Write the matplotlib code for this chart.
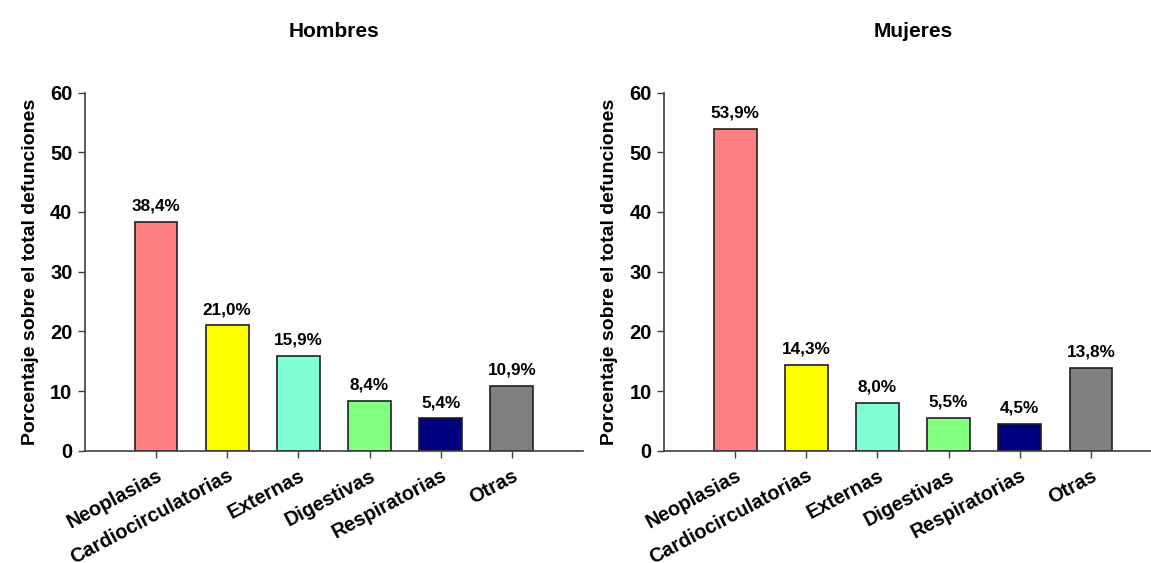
import matplotlib
matplotlib.use("Agg")
import matplotlib.pyplot as plt

plt.rcParams['font.family'] = ['Liberation Sans', 'DejaVu Sans']
plt.rcParams['font.weight'] = 'bold'

categories = ["Neoplasias", "Cardiocirculatorias", "Externas", "Digestivas",
              "Respiratorias", "Otras"]
hombres = [38.4, 21.0, 15.9, 8.4, 5.4, 10.9]
mujeres = [53.9, 14.3, 8.0, 5.5, 4.5, 13.8]
colors = ["#FF8080", "#FFFF00", "#80FFD4", "#80FF80", "#000080", "#808080"]
yticks = [0, 10, 20, 30, 40, 50, 60]
ylabel = "Porcentaje sobre el total defunciones"

fig = plt.figure(figsize=(11.51, 5.63), dpi=100)
ax_h = fig.add_axes([0.0738, 0.1995, 0.4327, 0.636])
ax_m = fig.add_axes([0.5769, 0.1995, 0.4327, 0.636])

axis_color = "#404040"

def draw(ax, values, title):
    x = list(range(len(categories)))
    ax.bar(x, values, width=0.6, color=colors, edgecolor="#202020", linewidth=1.2, zorder=2)
    for xi, v in zip(x, values):
        ax.text(xi, v + 1.4, f"{v:.1f}".replace(".", ",") + "%", ha="center", va="bottom",
                fontsize=12.3, fontweight="bold")
    ax.set_xlim(-1, 6)
    ax.set_ylim(0, 60)
    ax.set_yticks(yticks)
    ax.set_yticklabels([str(t) for t in yticks], fontsize=14.5, fontweight="bold")
    ax.set_xticks(x)
    ax.set_xticklabels(categories, rotation=28, ha="right", rotation_mode="anchor",
                       fontsize=14.3, fontweight="bold")
    for sp in ("top", "right"):
        ax.spines[sp].set_visible(False)
    for sp in ("left", "bottom"):
        ax.spines[sp].set_color(axis_color)
        ax.spines[sp].set_linewidth(1.2)
    ax.tick_params(axis="both", direction="out", length=5, width=1, color=axis_color, pad=4)
    ax.tick_params(axis="x", pad=6)
    ax.set_ylabel(ylabel, fontsize=14, fontweight="bold", labelpad=8)
    ax.set_title(title, fontsize=15, fontweight="bold", pad=40)

draw(ax_h, hombres, "Hombres")
draw(ax_m, mujeres, "Mujeres")

fig.savefig("out.png", dpi=100)
